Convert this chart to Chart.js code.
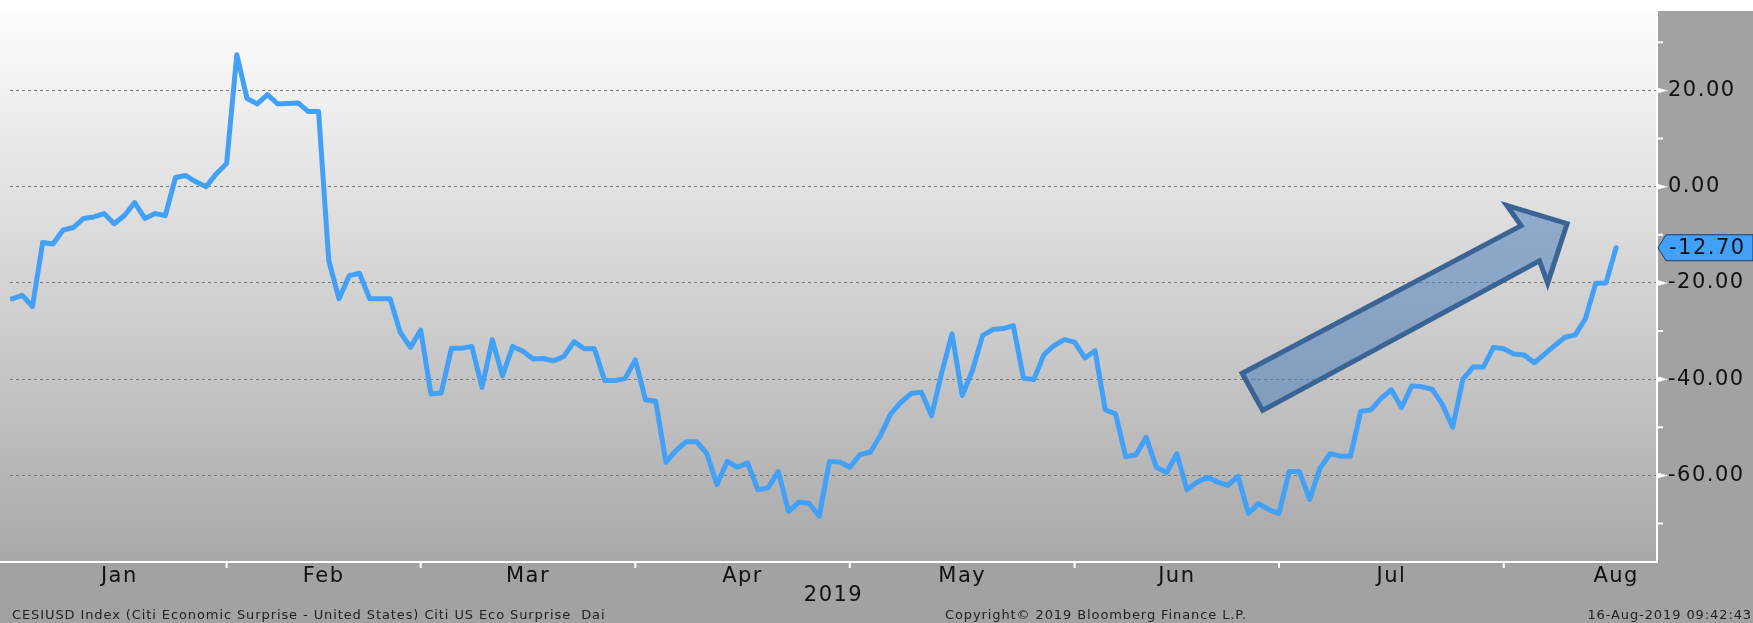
<!DOCTYPE html>
<html>
<head>
<meta charset="utf-8">
<script src="https://cdn.jsdelivr.net/npm/chart.js@4.4.1/dist/chart.umd.min.js"></script>
<style>
  html, body { margin: 0; padding: 0; background: #a2a2a2; overflow: hidden; }
  canvas { display: block; }
</style>
</head>
<body>
<canvas id="cesi-chart" width="1753" height="623"></canvas>
<script>
// Citi Economic Surprise Index - United States, daily closes 2019 (trading days)
const monthNames = ['Jan', 'Feb', 'Mar', 'Apr', 'May', 'Jun', 'Jul', 'Aug'];
// index of the first trading day of each month (last entry closes August)
const monthStarts = [0, 21, 40, 61, 82, 104, 124, 146, 168];
const yearLabel = '2019';

const cesi = [
  -23.3, -22.6, -24.9, -11.6, -11.9, -9.0, -8.5, -6.6, -6.3, -5.6,
  -7.7, -6.0, -3.3, -6.6, -5.6, -6.0, 1.9, 2.3, 1.0, 0.0,
  2.7, 4.8, 27.4, 18.3, 17.2, 19.1, 17.2, 17.3, 17.4, 15.6,
  15.6, -15.4, -23.3,
  -18.5, -18.0, -23.3, -23.3, -23.3, -30.3, -33.4, -29.8, -43.1, -42.9,
  -33.6, -33.6, -33.2, -41.7, -31.8, -39.3, -33.2, -34.2, -35.8, -35.7,
  -36.2, -35.3, -32.2, -33.7, -33.7, -40.3, -40.3, -39.9, -36.0, -44.3,
  -44.6,
  -57.3, -54.8, -53.0, -53.0, -55.5, -61.9, -57.1, -58.3, -57.4, -63.0,
  -62.6, -59.2, -67.5, -65.6, -65.8, -68.5, -57.1, -57.2, -58.3, -55.7,
  -55.2, -51.7, -47.2, -44.8, -43.0, -42.7, -47.6, -38.6, -30.6, -43.4,
  -38.2, -30.9, -29.7, -29.5, -28.9,
  -39.8, -40.1, -34.9, -33.0, -31.8, -32.3, -35.6, -34.1, -46.4, -47.2,
  -56.1, -55.7, -52.1, -58.3, -59.4, -55.5, -63.0, -61.4, -60.4, -61.4,
  -62.1, -60.2, -67.9, -65.9, -67.1, -67.9, -59.2, -59.2, -65.0, -58.6,
  -55.5, -56.0, -56.0,
  -46.7, -46.4, -44.0, -42.2, -45.9, -41.4, -41.6, -42.1, -45.3, -50.0,
  -40.0, -37.5, -37.5, -33.4, -33.7, -34.8, -35.0, -36.6, -34.8, -33.0,
  -31.3, -30.8, -27.4, -20.1, -20.0, -12.7
];

const footerLeft = 'CESIUSD Index (Citi Economic Surprise - United States) Citi US Eco Surprise  Dai';
const footerMid = 'Copyright\u00a9 2019 Bloomberg Finance L.P.';
const footerRight = '16-Aug-2019 09:42:43';

const axisFont = { family: 'DejaVu Sans', size: 21 };

// backdrop, white frame, axis tick marks, trend arrow, last value tag and footer
const bbgFrame = {
  id: 'bbgFrame',
  beforeDraw(chart) {
    const { ctx, chartArea: a, width, height } = chart;
    ctx.save();
    ctx.fillStyle = '#a2a2a2';
    ctx.fillRect(0, 0, width, height);
    ctx.fillStyle = '#ffffff';
    ctx.fillRect(0, 0, width, a.top);
    const g = ctx.createLinearGradient(0, a.top, 0, a.bottom);
    g.addColorStop(0, '#fdfdfd');
    g.addColorStop(0.5, '#d3d3d3');
    g.addColorStop(1, '#a8a8a8');
    ctx.fillStyle = g;
    ctx.fillRect(0, a.top, a.right, a.bottom - a.top);
    ctx.restore();
    // the terminal font runs wide; the axis labels drawn next keep this spacing
    ctx.letterSpacing = '1.5px';
  },
  afterDatasetsDraw(chart) {
    const { ctx } = chart;
    const x = chart.scales.x, y = chart.scales.y;
    // trend arrow, anchored in data space
    const pts = [[122.4, -46.5], [120.4, -38.8], [147.7, -8.1], [146.3, -3.9],
                 [152.2, -7.7], [150.3, -20.1], [149.5, -15.4]];
    ctx.save();
    ctx.beginPath();
    pts.forEach(([px, py], i) => {
      const cx = x.getPixelForValue(px), cy = y.getPixelForValue(py);
      if (i === 0) ctx.moveTo(cx, cy); else ctx.lineTo(cx, cy);
    });
    ctx.closePath();
    ctx.fillStyle = 'rgba(79, 129, 189, 0.55)';
    ctx.fill();
    ctx.lineWidth = 5;
    ctx.lineJoin = 'miter';
    ctx.strokeStyle = '#3b6494';
    ctx.stroke();
    ctx.restore();
  },
  afterDraw(chart) {
    const { ctx, chartArea: a, width } = chart;
    const x = chart.scales.x, y = chart.scales.y;
    ctx.save();
    // white frame
    ctx.strokeStyle = '#ffffff';
    ctx.lineWidth = 2;
    ctx.beginPath();
    ctx.moveTo(0, a.bottom);
    ctx.lineTo(a.right, a.bottom);
    ctx.lineTo(a.right, a.top);
    ctx.stroke();
    // y ticks: wedges on majors, short marks on minors
    ctx.fillStyle = '#ffffff';
    y.ticks.forEach(t => {
      const py = y.getPixelForValue(t.value);
      if (t.value % 20 === 0) {
        ctx.beginPath();
        ctx.moveTo(a.right, py - 3);
        ctx.lineTo(a.right + 11, py);
        ctx.lineTo(a.right, py + 3);
        ctx.closePath();
        ctx.fill();
      } else {
        ctx.fillRect(a.right, py - 1, 6, 2);
      }
    });
    // month boundary marks
    monthStarts.slice(1, -1).forEach(m => {
      const px = x.getPixelForValue(m);
      ctx.fillRect(px - 1, a.bottom, 2, 6);
    });
    // last value tag
    const last = cesi[cesi.length - 1];
    const ly = y.getPixelForValue(last);
    ctx.beginPath();
    ctx.moveTo(a.right + 1, ly);
    ctx.lineTo(a.right + 9, ly - 13);
    ctx.lineTo(width, ly - 13);
    ctx.lineTo(width, ly + 13);
    ctx.lineTo(a.right + 9, ly + 13);
    ctx.closePath();
    ctx.fillStyle = '#42a0f7';
    ctx.fill();
    ctx.strokeStyle = '#1c3a66';
    ctx.lineWidth = 1;
    ctx.stroke();
    ctx.fillStyle = '#111111';
    ctx.font = '21px "DejaVu Sans"';
    ctx.letterSpacing = '1.5px';
    ctx.textBaseline = 'middle';
    ctx.textAlign = 'left';
    ctx.fillText(last.toFixed(2), a.right + 12, ly + 1);
    // footer
    ctx.font = '13px "DejaVu Sans"';
    ctx.letterSpacing = '0.9px';
    ctx.fillStyle = '#222222';
    ctx.fillText(footerLeft, 12, 616);
    ctx.textAlign = 'center';
    ctx.fillText(footerMid, 1096, 616);
    ctx.textAlign = 'right';
    ctx.fillText(footerRight, width - 1, 616);
    ctx.restore();
    ctx.letterSpacing = '0px';
  }
};

const ctx = document.getElementById('cesi-chart').getContext('2d');
const chart = new Chart(ctx, {
  type: 'line',
  data: {
    datasets: [{
      label: 'CESIUSD Index',
      data: cesi.map((v, i) => ({ x: i, y: v })),
      borderColor: '#42a0f7',
      borderWidth: 5,
      borderJoinStyle: 'round',
      borderCapStyle: 'round',
      pointRadius: 0,
      tension: 0
    }]
  },
  options: {
    responsive: false,
    devicePixelRatio: 1,
    animation: false,
    layout: { padding: { top: 0, left: 10, right: 0, bottom: 0 } },
    plugins: { legend: { display: false }, tooltip: { enabled: false } },
    scales: {
      x: {
        type: 'linear',
        position: 'bottom',
        min: -0.2,
        max: 161,
        afterBuildTicks: s => {
          s.ticks = monthNames.map((m, i) => ({ value: (monthStarts[i] + monthStarts[i + 1]) / 2 }));
        },
        afterFit: s => { s.height = 61; s.paddingLeft = 0; s.paddingRight = 0; },
        ticks: {
          autoSkip: false,
          maxRotation: 0,
          padding: 2,
          color: '#111111',
          font: axisFont,
          callback: (v, i) => monthNames[i]
        },
        grid: { display: false, drawTicks: false },
        border: { display: false },
        title: {
          display: true,
          text: yearLabel,
          color: '#111111',
          font: axisFont,
          padding: { top: 0, bottom: 15 }
        }
      },
      y: {
        type: 'linear',
        position: 'right',
        min: -78,
        max: 36.5,
        afterFit: s => { s.width = 96; s.paddingTop = 11; s.paddingBottom = 0; },
        ticks: {
          stepSize: 10,
          includeBounds: false,
          padding: 11,
          color: '#111111',
          font: axisFont,
          callback: v => (v % 20 === 0 ? v.toFixed(2) : '')
        },
        grid: {
          drawTicks: false,
          lineWidth: 1,
          color: c => (c.tick && c.tick.value % 20 === 0 ? '#7a7a7a' : 'transparent')
        },
        border: { display: false, dash: [3, 3] }
      }
    }
  },
  plugins: [bbgFrame]
});
</script>
</body>
</html>
